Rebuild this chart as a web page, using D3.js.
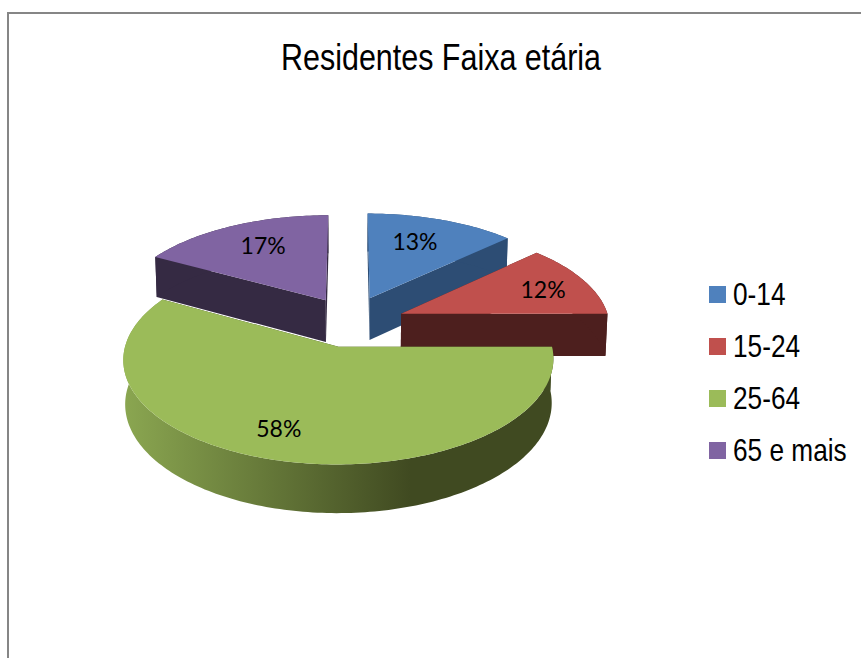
<!DOCTYPE html>
<html>
<head>
<meta charset="utf-8">
<script src="https://cdn.jsdelivr.net/npm/d3@7"></script>
<style>
  html, body { margin: 0; padding: 0; background: #fff; overflow: hidden; }
  svg { display: block; }
</style>
</head>
<body>
<div id="chart"></div>
<script>
const title = "Residentes Faixa etária";
const categories = ["0-14", "15-24", "25-64", "65 e mais"];
const percents = [13, 12, 58, 17];
const colors = ["#4f81bd", "#c0504d", "#9bbb59", "#8064a2"];
const wallColors = ["#2d4d74", "#4d1f1e", "#404a21", "#352a43"];
const explode = [0.24, 0.25, 0.27, 0.23];
const pullTurn = [0, 8, -3.2, 0];
const sliceRadius = [1, 0.98, 0.975, 1];
const labelRadius = [0.684, 0.744, 0.75, 0.697];
const labelTurn = [-2.6, 2.1, 4.6, 2.1];

const width = 861, height = 658;

// 3d pie camera
const cx = 350, cy = 319.5, rx = 212, ry = 99.5, persp = 0.12, depth = 43, zoomOut = 0.008;
const rad = Math.PI / 180;

const svg = d3.select("#chart")
  .append("svg")
  .attr("width", width)
  .attr("height", height);

const grad = svg.append("defs").append("linearGradient")
  .attr("id", "greenWall")
  .attr("gradientUnits", "userSpaceOnUse")
  .attr("x1", 122).attr("x2", 410).attr("y1", 0).attr("y2", 0);
grad.append("stop").attr("offset", "0%").attr("stop-color", "#8ba751");
grad.append("stop").attr("offset", "100%").attr("stop-color", "#404a21");

// frame, only top and left are inside the crop
svg.append("path")
  .attr("d", d3.line()([[8, height], [8, 13], [width, 13]]))
  .attr("fill", "none")
  .attr("stroke", "#868686")
  .attr("stroke-width", 2);

svg.append("text")
  .attr("x", 281).attr("y", 70)
  .attr("textLength", 320)
  .attr("lengthAdjust", "spacingAndGlyphs")
  .style("font-family", "'Liberation Sans', Arial, sans-serif")
  .style("font-size", "37px")
  .attr("fill", "#000")
  .text(title);

const pie = d3.pie().sort(null).value(d => d);
const slices = pie(percents).map((d, i) => {
  const mid = (d.startAngle + d.endAngle) / 2;
  const pull = mid + pullTurn[i] * rad;
  return {
    ...d, i, mid,
    r: sliceRadius[i],
    ox: explode[i] * Math.sin(pull),
    oy: explode[i] * Math.cos(pull)
  };
});

// world point on the pie plane -> screen, z=1 is the bottom of the slab
function project(s, r, a, z) {
  const X = s.ox + r * Math.sin(a);
  const Y = s.oy + r * Math.cos(a);
  const w = 1 + persp * Y + zoomOut * z;
  return [cx + rx * X / w, cy - (ry * Y - depth * z) / w];
}

function rim(s, a0, a1, z) {
  const n = Math.max(2, Math.ceil((a1 - a0) / 0.02));
  return d3.range(n + 1).map(k => project(s, s.r, a0 + (a1 - a0) * k / n, z));
}

const line = d3.line().curve(d3.curveLinear);

// far slices first so nearer ones paint over them
const order = slices.slice().sort((a, b) => b.oy - a.oy);

const g = svg.selectAll("g.slice")
  .data(order)
  .enter()
  .append("g")
  .attr("class", "slice");

g.each(function(s) {
  const el = d3.select(this);
  const wallFill = s.i === 2 ? "url(#greenWall)" : wallColors[s.i];
  const edges = [s.startAngle, s.endAngle].map(a => [
    project(s, 0, a, 0), project(s, s.r, a, 0), project(s, s.r, a, 1), project(s, 0, a, 1)
  ]);
  edges.forEach(q => {
    el.append("path").attr("d", line(q) + "Z").attr("fill", wallColors[s.i]);
  });
  el.append("path")
    .attr("d", line(rim(s, s.startAngle, s.endAngle, 0).concat(rim(s, s.startAngle, s.endAngle, 1).reverse())) + "Z")
    .attr("fill", wallFill);
  el.append("path")
    .attr("d", line([project(s, 0, 0, 0)].concat(rim(s, s.startAngle, s.endAngle, 0))) + "Z")
    .attr("fill", colors[s.i]);
});

svg.selectAll("text.pct")
  .data(slices)
  .enter()
  .append("text")
  .attr("class", "pct")
  .attr("text-anchor", "middle")
  .attr("transform", s => {
    const p = project(s, labelRadius[s.i], s.mid + labelTurn[s.i] * rad, 0);
    return `translate(${p[0]},${p[1] + 8})`;
  })
  .style("font-family", "Lato, 'Open Sans', sans-serif")
  .style("font-size", "23px")
  .attr("fill", "#000")
  .text(s => s.data + "%");

const legendY = d3.scalePoint().domain(categories).range([294.5, 450.5]);

const legend = svg.selectAll("g.legend")
  .data(categories)
  .enter()
  .append("g")
  .attr("class", "legend")
  .attr("transform", d => `translate(709,${legendY(d)})`);

legend.append("rect")
  .attr("y", -8.5)
  .attr("width", 17)
  .attr("height", 17)
  .attr("fill", (d, i) => colors[i]);

legend.append("text")
  .attr("x", 24)
  .attr("y", 10.5)
  .attr("transform", "translate(24,0) scale(0.82,1) translate(-24,0)")
  .style("font-family", "'Liberation Sans', Arial, sans-serif")
  .style("font-size", "32px")
  .attr("fill", "#000")
  .text(d => d);
</script>
</body>
</html>
